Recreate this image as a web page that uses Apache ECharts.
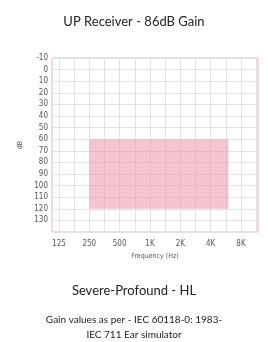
<!DOCTYPE html>
<html>
<head>
<meta charset="utf-8">
<script src="https://cdn.jsdelivr.net/npm/echarts@6/dist/echarts.min.js"></script>
<style>
  html, body { margin: 0; padding: 0; background: #fff; }
  #main { width: 268px; height: 342px; }
</style>
</head>
<body>
<div id="main"></div>
<script>
// frequency labels, one per octave starting at 125 Hz
var freqLabels = ['125', '250', '500', '1K', '2K', '4K', '8K'];
// gain band: from 250 Hz to ~6 kHz (octave index), 60..120 dB
var bandFreq = [1, 5.585];
var bandDb = [60, 120];
var dbTicks = [-10, 0, 10, 20, 30, 40, 50, 60, 70, 80, 90, 100, 110, 120, 130];

var myChart = echarts.init(document.getElementById('main'));

var labelFont = '"Liberation Sans Narrow", "DejaVu Sans Condensed", sans-serif';
var textStyle = {fontFamily: 'Lato', fontSize: 13, fontWeight: 'normal', color: '#222'};
var smallStyle = {fontFamily: 'Lato', fontSize: 10, fontWeight: 'normal', color: '#222'};

var option = {
    animation: false,
    title: [
        {text: 'UP Receiver - 86dB Gain', left: 'center', top: 10, textStyle: textStyle},
        {text: 'Severe-Profound - HL', left: 'center', top: 279, textStyle: textStyle},
        {text: 'Gain values as per - IEC 60118-0: 1983-', left: 'center', top: 315, padding: 0, textStyle: smallStyle},
        {text: 'IEC 711 Ear simulator', left: 'center', top: 330, padding: 0, textStyle: smallStyle}
    ],
    grid: {
        left: 52, right: 10, top: 58, bottom: 110,
        show: true,
        borderColor: '#eab0b8',
        borderWidth: 1,
        backgroundColor: '#fff'
    },
    xAxis: {
        type: 'value',
        min: -0.23,
        max: 6.56,
        name: 'Frequency (Hz)',
        nameLocation: 'middle',
        nameGap: 21,
        nameTextStyle: {fontFamily: labelFont, fontSize: 7, color: '#555'},
        axisLine: {show: false},
        axisTick: {show: false, customValues: [0, 0.5, 1, 1.5, 2, 2.5, 3, 3.5, 4, 4.5, 5, 5.5, 6, 6.5]},
        axisLabel: {
            customValues: [0, 1, 2, 3, 4, 5, 6],
            formatter: function (v) { return freqLabels[Math.round(v)]; },
            fontFamily: labelFont, fontSize: 8, color: '#555', margin: 8
        },
        splitLine: {show: true, lineStyle: {color: '#e2e2e2', width: 1}}
    },
    yAxis: {
        type: 'value',
        inverse: true,
        min: -10,
        max: 140,
        interval: 10,
        name: 'dB',
        nameLocation: 'middle',
        nameRotate: 90,
        nameGap: 17,
        nameTextStyle: {fontFamily: labelFont, fontSize: 7, color: '#555'},
        axisLine: {show: false},
        axisTick: {show: false},
        axisLabel: {
            formatter: function (v) { return dbTicks.indexOf(v) >= 0 ? String(v) : ''; },
            fontFamily: labelFont, fontSize: 8, color: '#555', margin: 4
        },
        splitLine: {show: true, lineStyle: {color: '#e2e2e2', width: 1}}
    },
    series: [{
        type: 'line',
        data: [],
        markArea: {
            silent: true,
            itemStyle: {color: 'rgba(236,150,168,0.55)'},
            data: [[
                {coord: [bandFreq[0], bandDb[0]]},
                {coord: [bandFreq[1], bandDb[1]]}
            ]]
        }
    }]
};

myChart.setOption(option);
</script>
</body>
</html>
